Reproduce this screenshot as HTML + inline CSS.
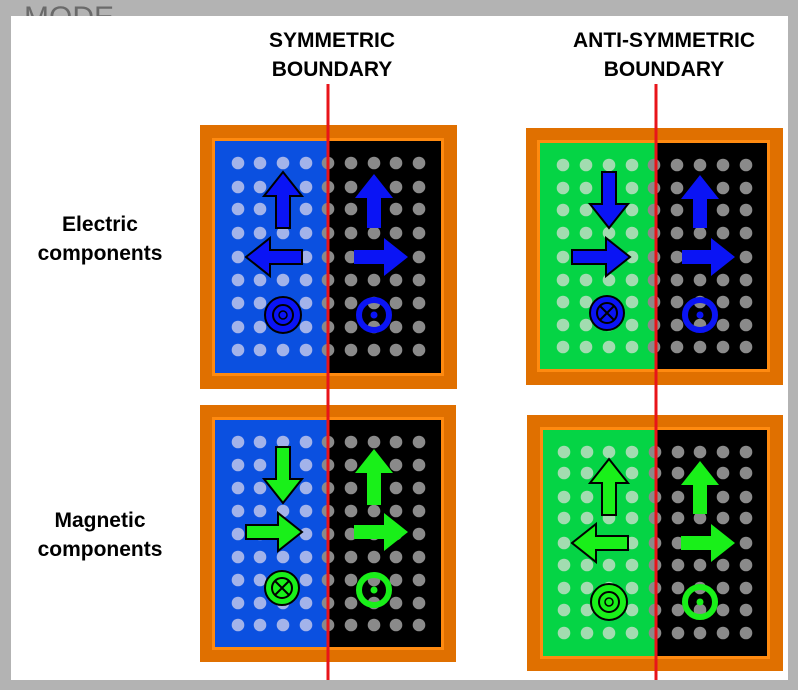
<!DOCTYPE html>
<html><head><meta charset="utf-8"><style>
html,body{margin:0;padding:0;background:#b3b3b3;}
svg{display:block;}
text{font-family:"Liberation Sans",Arial,sans-serif;}
</style></head><body>
<svg id="s" width="798" height="690" viewBox="0 0 798 690" xmlns="http://www.w3.org/2000/svg">
<rect x="0" y="0" width="798" height="690" fill="#b3b3b3"/>
<text x="24" y="27" font-size="30" fill="#6a6a6a">MODE</text>
<rect x="11" y="16" width="777" height="664" fill="#ffffff"/>
<g font-weight="bold" font-size="21" fill="#000" text-anchor="middle">
<text x="332" y="47">SYMMETRIC</text>
<text x="332" y="76">BOUNDARY</text>
<text x="664" y="47">ANTI-SYMMETRIC</text>
<text x="664" y="76">BOUNDARY</text>
<text x="100" y="231">Electric</text>
<text x="100" y="260">components</text>
<text x="100" y="527">Magnetic</text>
<text x="100" y="556">components</text>
</g>
<g id="panels"></g>
<rect x="326.5" y="84" width="3" height="596" fill="#e8141a"/>
<rect x="654.5" y="84" width="3" height="596" fill="#e8141a"/>
</svg>
<script>
const NS="http://www.w3.org/2000/svg";
const root=document.getElementById('panels');
function mk(tag,attrs,parent){const e=document.createElementNS(NS,tag);for(const k in attrs)e.setAttribute(k,attrs[k]);(parent||root).appendChild(e);return e;}
const panels=[
 {name:'electric-symmetric',o:[200,125,457,389],i:[215,141,441,373],split:328,bg:'#0b50e0',dot:'#a3b3ea',
  cols:[238,260,283,306,328,351,374,396,419],rows:[163,187,209,233,257,280,303,327,350],col:'#0a14f5',
  arrows:[[283,228,283,172,1],[302,257,246,257,1],[374,228,374,174,0],[354,257,408,257,0]],
  circ:[[283,315,'conc'],[374,315,'dot']]},
 {name:'electric-antisymmetric',o:[526,128,783,385],i:[540,143,767,369],split:656,bg:'#05d445',dot:'#a2dcb0',
  cols:[563,586,609,632,654,677,700,723,746],rows:[165,188,210,233,257,280,302,325,347],col:'#0a14f5',
  arrows:[[609,172,609,228,1],[572,257,630,257,1],[700,228,700,175,0],[682,257,735,257,0]],
  circ:[[607,313,'x'],[700,315,'dot']]},
 {name:'magnetic-symmetric',o:[200,405,456,662],i:[215,420,441,647],split:328,bg:'#0b50e0',dot:'#a3b3ea',
  cols:[238,260,283,306,328,351,374,396,419],rows:[442,465,488,511,534,557,580,603,625],col:'#19f019',
  arrows:[[283,447,283,503,1],[246,532,302,532,1],[374,505,374,449,0],[354,532,408,532,0]],
  circ:[[282,588,'x'],[374,590,'dot']]},
 {name:'magnetic-antisymmetric',o:[527,415,783,671],i:[543,430,767,656],split:656,bg:'#05d445',dot:'#a2dcb0',
  cols:[564,587,609,632,655,678,700,723,746],rows:[452,473,497,518,543,565,588,610,633],col:'#19f019',
  arrows:[[609,515,609,459,1],[628,543,572,543,1],[700,514,700,461,0],[681,543,735,543,0]],
  circ:[[609,602,'conc'],[700,602,'dot']]}
];
function arrow(g,x1,y1,x2,y2,fill,stroke){
 const dx=x2-x1,dy=y2-y1,L=Math.hypot(dx,dy),ux=dx/L,uy=dy/L,px=-uy,py=ux;
 const hl=24,sw=7,hw=19;
 const pts=[[0,-sw],[L-hl,-sw],[L-hl,-hw],[L,0],[L-hl,hw],[L-hl,sw],[0,sw]].map(([a,b])=>(x1+ux*a+px*b).toFixed(1)+','+(y1+uy*a+py*b).toFixed(1)).join(' ');
 const p=mk('polygon',{points:pts,fill:fill,stroke:stroke?'#000':'none','stroke-width':2},g);
 
 
}
panels.forEach(P=>{
 const g=mk('g',{});
 
 
 const [ox1,oy1,ox2,oy2]=P.o,[ix1,iy1,ix2,iy2]=P.i;
 const fr=mk('rect',{x:ox1,y:oy1,width:ox2-ox1,height:oy2-oy1,fill:'#e07000'},g);
 
 
 mk('rect',{x:ix1-3,y:iy1-3,width:ix2-ix1+6,height:iy2-iy1+6,fill:'#ff8a10'},g);
 const l=mk('rect',{x:ix1,y:iy1,width:P.split-ix1,height:iy2-iy1,fill:P.bg},g);
 
 
 const r=mk('rect',{x:P.split,y:iy1,width:ix2-P.split,height:iy2-iy1,fill:'#000'},g);
 
 
 P.rows.forEach(y=>P.cols.forEach(x=>{
   const c=mk('circle',{cx:x,cy:y,r:6.3,fill:x<P.split-2?P.dot:'#8a8a8a'},g);
   
   
 }));
 P.arrows.forEach(a=>arrow(g,a[0],a[1],a[2],a[3],P.col,a[4]));
 P.circ.forEach(([x,y,t])=>{
   const cg=mk('g',{},g);
   
   
   if(t==='dot'){
     mk('circle',{cx:x,cy:y,r:15,fill:'none',stroke:P.col,'stroke-width':6},cg);
     mk('circle',{cx:x,cy:y,r:3.5,fill:P.col},cg);
   }else if(t==='conc'){
     mk('circle',{cx:x,cy:y,r:18,fill:P.col,stroke:'#000','stroke-width':2},cg);
     mk('circle',{cx:x,cy:y,r:10,fill:P.col,stroke:'#000','stroke-width':2},cg);
     mk('circle',{cx:x,cy:y,r:4,fill:P.col,stroke:'#000','stroke-width':1.5},cg);
   }else{
     mk('circle',{cx:x,cy:y,r:17,fill:P.col,stroke:'#000','stroke-width':2},cg);
     mk('circle',{cx:x,cy:y,r:10,fill:P.col,stroke:'#000','stroke-width':2},cg);
     mk('path',{d:`M${x-7} ${y-7}L${x+7} ${y+7}M${x+7} ${y-7}L${x-7} ${y+7}`,stroke:'#000','stroke-width':2},cg);
   }
 });
});
</script>
</body></html>
